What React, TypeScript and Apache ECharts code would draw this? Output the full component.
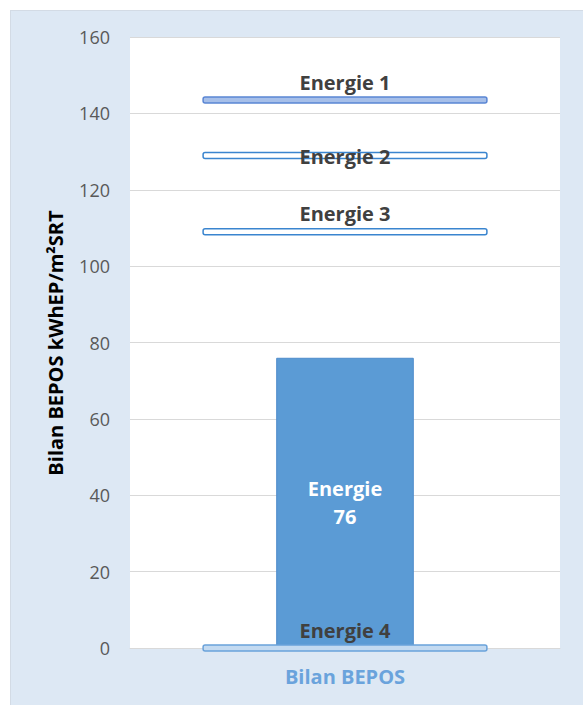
import React, { useEffect, useRef } from "react";
import * as echarts from "echarts";

const categories = ["Bilan BEPOS"];
const barValues = [76];
const barLabelName = "Energie";
const levelNames = ["Energie 1", "Energie 2", "Energie 3", "Energie 4"];
const levelValues = [143.5, 129, 109, 0];
const yTicks = { min: 0, max: 160, interval: 20 };
const yAxisName = "Bilan BEPOS kWhEP/m²SRT";

const FONT = "'Open Sans', 'Noto Sans', sans-serif";

const levelStyles: Record<string, { fill: string; stroke: string; label: "above" | "center" }> = {
  "Energie 1": { fill: "#a6bfe9", stroke: "#5a86d4", label: "above" },
  "Energie 2": { fill: "#ffffff", stroke: "#3a85cf", label: "center" },
  "Energie 3": { fill: "#ffffff", stroke: "#3a85cf", label: "above" },
  "Energie 4": { fill: "#c3daf1", stroke: "#6aa2da", label: "above" },
};

export default function App() {
  const ref = useRef<HTMLDivElement>(null);
  useEffect(() => {
    if (!ref.current) return;
    const chart = echarts.init(ref.current, null, { renderer: "svg" });
    const levelData = levelValues.map((v, i) => ({ value: [0, v], name: levelNames[i] }));
    chart.setOption({
      animation: false,
      grid: {
        left: 130,
        right: 23,
        top: 37,
        bottom: 57,
        show: true,
        backgroundColor: "#ffffff",
        borderWidth: 0,
      },
      graphic: [
        {
          type: "text",
          x: 55,
          y: 343,
          rotation: Math.PI / 2,
          style: {
            text: yAxisName,
            fill: "#000000",
            fontSize: 20,
            fontWeight: "bold",
            fontFamily: FONT,
            align: "center",
            verticalAlign: "middle",
          },
        },
      ],
      xAxis: {
        type: "category",
        data: categories,
        axisLine: { show: true, lineStyle: { color: "#d9d9d9", width: 1 } },
        axisTick: { show: false },
        axisLabel: {
          color: "#6aa3dc",
          fontWeight: "bold",
          fontSize: 20,
          fontFamily: FONT,
          margin: 18,
        },
      },
      yAxis: {
        type: "value",
        min: yTicks.min,
        max: yTicks.max,
        interval: yTicks.interval,
        axisLine: { show: false },
        axisTick: { show: false },
        splitLine: { lineStyle: { color: "#d9d9d9", width: 1 } },
        axisLabel: {
          color: "#595959",
          fontSize: 18,
          fontFamily: FONT,
          margin: 20,
        },
      },
      series: [
        {
          type: "bar",
          data: barValues,
          barWidth: "32%",
          itemStyle: { color: "#5b9bd5", borderColor: "#4f8ccb", borderWidth: 1 },
          label: {
            show: true,
            position: "inside",
            formatter: (p: any) => `${barLabelName}\n${p.value}`,
            color: "#ffffff",
            fontWeight: "bold",
            fontSize: 20,
            lineHeight: 28,
            fontFamily: FONT,
          },
          z: 2,
        },
        {
          type: "custom",
          data: levelData,
          z: 5,
          renderItem: (params: any, api: any) => {
            const cat = api.value(0);
            const val = api.value(1);
            const name = levelNames[params.dataIndex];
            const st = levelStyles[name];
            const pt = api.coord([cat, val]);
            const band = api.size([1, 0])[0];
            const w = band * 0.66;
            const h = 6;
            const labelY = st.label === "above" ? pt[1] - 18 : pt[1] + 1;
            return {
              type: "group",
              children: [
                {
                  type: "rect",
                  shape: { x: pt[0] - w / 2, y: pt[1] - h / 2, width: w, height: h, r: 2 },
                  style: { fill: st.fill, stroke: st.stroke, lineWidth: 1.5 },
                },
                {
                  type: "text",
                  x: pt[0],
                  y: labelY,
                  style: {
                    text: name,
                    fill: "#404040",
                    fontSize: 20,
                    fontWeight: "bold",
                    fontFamily: FONT,
                    align: "center",
                    verticalAlign: "middle",
                  },
                },
              ],
            };
          },
        },
      ],
    });
    return () => chart.dispose();
  }, []);

  return (
    <div style={{ position: "fixed", left: 0, top: 0, width: 583, height: 705, background: "#ffffff" }}>
      <div
        style={{
          position: "absolute",
          left: 10,
          top: 10,
          width: 573,
          height: 695,
          background: "#dde8f4",
          borderLeft: "1px solid #d3dbe5",
          borderTop: "1px solid #d3dbe5",
          boxSizing: "border-box",
        }}
      />
      <div ref={ref} style={{ position: "absolute", left: 0, top: 0, width: 583, height: 705 }} />
    </div>
  );
}
